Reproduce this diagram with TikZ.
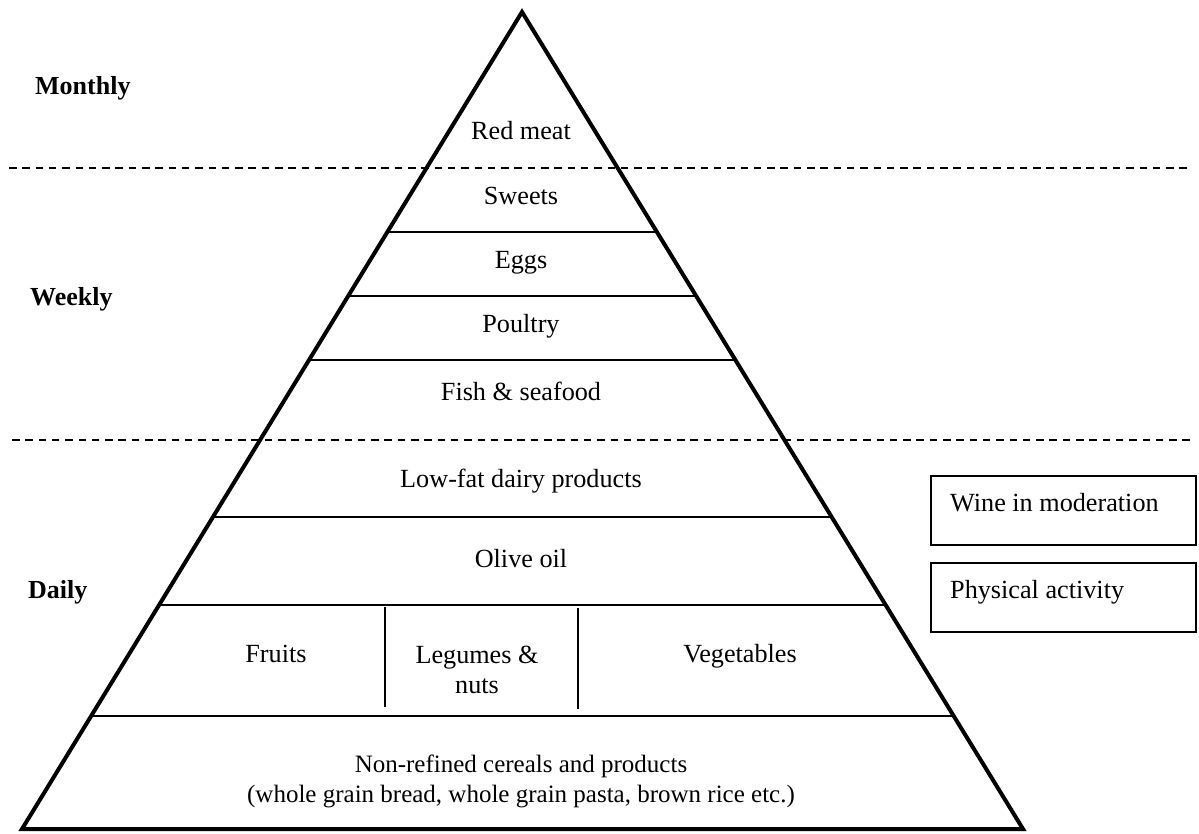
\documentclass[tikz,border=0pt]{standalone}
\usepackage{fontspec}
\setmainfont{Liberation Serif}
\usetikzlibrary{calc}
\begin{document}
\begin{tikzpicture}[x=1pt,y=-1pt,
  lbl/.style={font=\fontsize{26.2}{30}\selectfont, inner sep=0pt, anchor=base},
  lblw/.style={font=\fontsize{26.2}{30}\selectfont, inner sep=0pt, anchor=base west},
  small/.style={font=\fontsize{25}{30}\selectfont},
  freq/.style={font=\fontsize{26}{30}\selectfont\bfseries, inner sep=0pt, anchor=base west},
  pyr/.style={line width=4pt, line join=miter},
  tier/.style={line width=2pt},
  sep/.style={line width=1.5pt, dash pattern=on 7.5pt off 5.8pt},
  sidebox/.style={draw, line width=1.5pt, minimum width=265pt, minimum height=69pt, inner sep=0pt}]
\useasboundingbox (0,0) rectangle (1199,833);
% pyramid
\coordinate (apex) at (522,12);
\coordinate (bl) at (22,829);
\coordinate (br) at (1023,829);
\draw[pyr] (apex) -- (bl) -- (br) -- cycle;
% tier lines
\foreach \t/\n in {0.2693/a,0.3476/b,0.4259/c,0.6181/d,0.7258/e,0.8617/f}{
  \coordinate (L\n) at ($(apex)!\t!(bl)$);
  \coordinate (R\n) at ($(apex)!\t!(br)$);
  \draw[tier] (L\n) -- (R\n);
}
% dividers
\coordinate (v1t) at (385,607); \coordinate (v1b) at (385,707);
\coordinate (v2t) at (578,608); \coordinate (v2b) at (578,709);
\draw[tier] (v1t) -- (v1b);
\draw[tier] (v2t) -- (v2b);
% dashed separators
\coordinate (d1l) at (9,168); \coordinate (d1r) at (1187,168);
\coordinate (d2l) at (12,440); \coordinate (d2r) at (1192,440);
\draw[sep] (d1l) -- (d1r);
\draw[sep] (d2l) -- (d2r);
% frequency labels
\node[freq] (monthly) at (35,94) {Monthly};
\node[freq] (weekly) at (30,305) {Weekly};
\node[freq] (daily) at (28,598) {Daily};
% pyramid texts
\node[lbl] (redmeat) at (521,139) {Red meat};
\node[lbl] (sweets) at (521,204) {Sweets};
\node[lbl] (eggs) at (521,268) {Eggs};
\node[lbl] (poultry) at (521,332) {Poultry};
\node[lbl] (fish) at (521,400) {Fish \& seafood};
\node[lbl] (dairy) at (521,487) {Low-fat dairy products};
\node[lbl] (olive) at (521,567) {Olive oil};
\node[lbl] (fruits) at (276,662) {Fruits};
\node[lbl] (legumes) at (477,663) {\begin{tabular}[t]{@{}c@{}}Legumes \&\\nuts\end{tabular}};
\node[lbl] (veg) at (740,662) {Vegetables};
\node[lbl,small] (cereals) at (521,772) {\begin{tabular}[t]{@{}c@{}}Non-refined cereals and products\\(whole grain bread, whole grain pasta, brown rice etc.)\end{tabular}};
% side boxes
\node[sidebox] (winebox) at (1063.5,510.5) {};
\node[lblw] (wine) at (950,511) {Wine in moderation};
\node[sidebox] (physbox) at (1063.5,597.5) {};
\node[lblw] (phys) at (950,598) {Physical activity};
\end{tikzpicture}
\end{document}
